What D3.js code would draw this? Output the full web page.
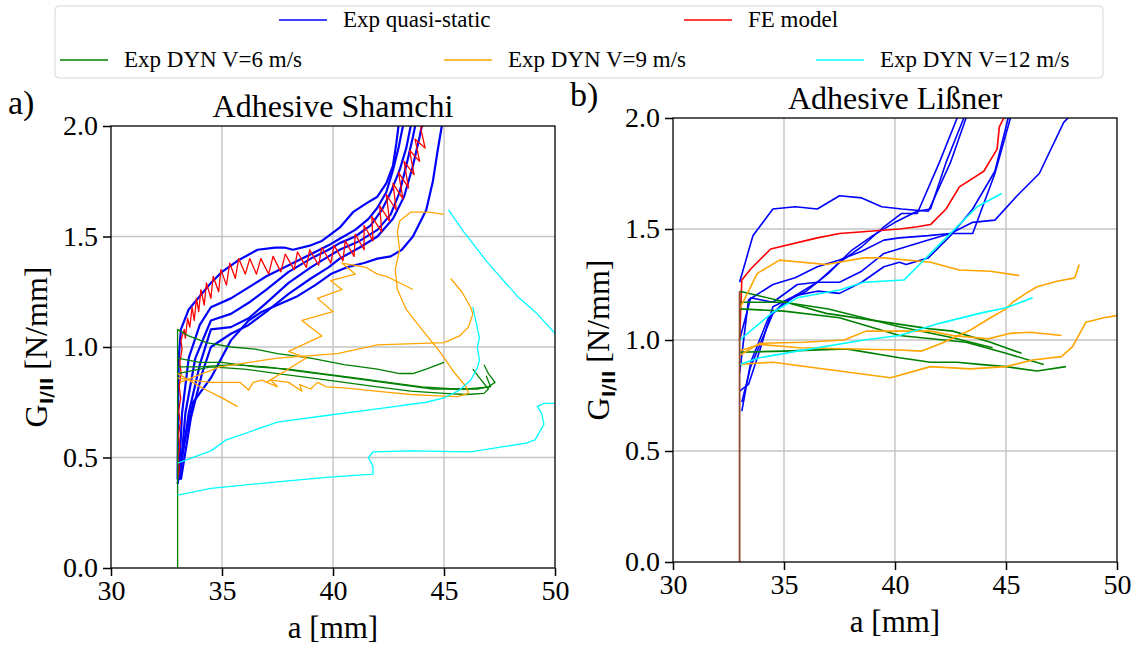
<!DOCTYPE html>
<html>
<head>
<meta charset="utf-8">
<script src="https://cdn.jsdelivr.net/npm/d3@7/dist/d3.min.js"></script>
<style>
  body { margin: 0; background: #fff; }
</style>
</head>
<body>
<svg id="chart" width="1138" height="651"></svg>
<script>
// ---- data: [a (mm), G (N/mm)] ----
const xTicks = [30, 35, 40, 45, 50];
const yTicks = [0, 0.5, 1.0, 1.5, 2.0];
const legendLabels = ["Exp quasi-static", "FE model", "Exp DYN V=6 m/s", "Exp DYN V=9 m/s", "Exp DYN V=12 m/s"];
const seriesColors = ["#0000ff", "#ff0000", "#008000", "#ffa500", "#00ffff"];

// Adhesive Shamchi
const shamQuasi = [
  [[33.0,0.40],[33.02,0.70],[33.05,0.95],[33.15,1.08],[33.5,1.17],[34.0,1.23],[34.5,1.29],[35.0,1.34],[35.7,1.39],[36.6,1.44],[37.4,1.45],[37.8,1.45],[38.2,1.44],[39.0,1.46],[39.5,1.48],[40.3,1.54],[40.9,1.61],[41.5,1.65],[42.0,1.68],[42.4,1.74],[42.7,1.82],[42.85,1.92],[42.95,2.0]],
  [[33.05,0.40],[33.2,0.70],[33.5,0.95],[34.0,1.10],[34.5,1.18],[35.4,1.22],[36.2,1.27],[37.0,1.32],[38.0,1.37],[39.0,1.42],[39.8,1.46],[40.3,1.49],[41.0,1.53],[41.6,1.58],[42.0,1.63],[42.4,1.70],[42.7,1.80],[42.95,1.90],[43.15,2.0]],
  [[33.1,0.40],[33.35,0.70],[33.8,0.95],[34.5,1.12],[35.4,1.15],[36.2,1.20],[37.0,1.26],[38.0,1.34],[39.0,1.40],[39.8,1.44],[40.3,1.47],[41.0,1.50],[41.7,1.55],[42.2,1.62],[42.6,1.70],[43.0,1.80],[43.3,1.90],[43.5,2.0]],
  [[33.1,0.42],[33.5,0.70],[34.0,0.92],[34.5,1.08],[35.4,1.09],[36.2,1.13],[37.0,1.20],[38.0,1.29],[39.0,1.36],[39.8,1.41],[40.3,1.44],[41.2,1.48],[42.0,1.53],[42.6,1.60],[43.0,1.70],[43.3,1.82],[43.6,1.95],[43.7,2.0]],
  [[33.15,0.40],[33.6,0.68],[34.1,0.88],[34.5,1.00],[35.4,1.06],[36.2,1.10],[37.0,1.16],[38.0,1.24],[39.0,1.31],[39.8,1.36],[40.3,1.40],[41.2,1.45],[42.0,1.50],[42.7,1.58],[43.2,1.68],[43.6,1.82],[43.9,1.95],[44.0,2.0]],
  [[33.0,0.38],[33.2,0.52],[33.7,0.75],[34.5,0.86],[35.4,1.03],[36.2,1.12],[36.8,1.16],[37.5,1.19],[38.4,1.23],[39.2,1.28],[39.9,1.33],[40.6,1.36],[41.4,1.38],[42.0,1.40],[42.6,1.41],[43.1,1.44],[43.6,1.50],[44.2,1.62],[44.5,1.75],[44.7,1.88],[44.9,2.0]]
];
const shamFE = [
  [[33.00,0.40],[33.08,0.45],[33.02,0.50],[33.10,0.55],[33.04,0.60],[33.12,0.66],[33.05,0.71],[33.14,0.77],[33.07,0.82],[33.16,0.88],[33.10,0.93],[33.20,0.99],[33.15,1.03],[33.30,1.08],[33.35,1.04],[33.45,1.13],[33.55,1.09],[33.65,1.18],[33.75,1.12],[33.85,1.22],[33.95,1.16],[34.05,1.26],[34.20,1.19],[34.30,1.29],[34.50,1.22],[34.60,1.32],[34.85,1.25],[34.95,1.35],[35.20,1.28],[35.35,1.38],[35.60,1.31],[35.75,1.40],[36.05,1.33],[36.25,1.40],[36.55,1.33],[36.75,1.40],[37.10,1.33],[37.30,1.41],[37.65,1.34],[37.85,1.42],[38.25,1.35],[38.40,1.43],[38.80,1.36],[38.95,1.44],[39.35,1.37],[39.50,1.45],[39.90,1.38],[40.05,1.46],[40.45,1.39],[40.55,1.48],[40.95,1.41],[41.00,1.51],[41.40,1.44],[41.40,1.55],[41.80,1.48],[41.75,1.59],[42.20,1.52],[42.10,1.64],[42.55,1.57],[42.40,1.69],[42.85,1.62],[42.70,1.74],[43.15,1.67],[42.95,1.79],[43.40,1.72],[43.20,1.84],[43.65,1.78],[43.45,1.89],[43.90,1.84],[43.70,1.94],[44.15,1.90],[43.95,1.99],[44.25,2.02]]
];
const shamDyn6 = [
  [[33.0,0.0],[33.0,1.08],[33.5,1.05],[34.3,1.02],[35.4,1.00],[36.5,0.99],[37.5,0.97],[39.0,0.95],[40.5,0.92],[42.0,0.90],[43.0,0.88],[43.6,0.88],[44.2,0.90],[45.0,0.93]],
  [[33.0,0.95],[34.0,0.93],[35.0,0.93],[36.5,0.91],[38.0,0.90],[39.5,0.88],[41.0,0.86],[42.5,0.84],[44.0,0.82],[45.5,0.81],[46.5,0.81],[47.0,0.82],[47.3,0.84],[47.0,0.88],[46.8,0.92]],
  [[33.0,0.88],[33.5,0.89],[34.5,0.91],[36.0,0.90],[37.5,0.88],[39.0,0.86],[40.5,0.84],[42.0,0.82],[43.5,0.80],[45.0,0.79],[46.0,0.785],[46.8,0.79],[47.0,0.81],[46.6,0.86],[46.3,0.90]],
  [[33.0,0.91],[34.0,0.91],[35.5,0.92],[37.0,0.91],[38.5,0.89],[40.0,0.87],[41.5,0.85],[43.0,0.83],[44.5,0.81],[46.0,0.81],[47.1,0.82],[46.9,0.87]]
];
const shamDyn9 = [
  [[33.0,0.88],[33.5,0.85],[34.2,0.81],[35.0,0.77],[35.7,0.73]],
  [[33.1,0.84],[34.9,0.91],[37.5,0.95],[40.2,0.97],[42.0,1.01],[45.0,1.02],[45.7,1.05],[46.1,1.09],[46.3,1.15],[46.2,1.18],[45.8,1.25],[45.3,1.31]],
  [[45.0,1.60],[44.3,1.61],[43.5,1.61],[43.0,1.57],[42.9,1.52],[43.0,1.44],[42.8,1.35],[42.9,1.26],[43.3,1.17],[44.0,1.08],[44.8,0.98],[45.5,0.88],[46.0,0.82],[46.1,0.79],[45.6,0.775],[44.5,0.78],[43.5,0.785],[42.5,0.795],[41.5,0.805],[40.5,0.815],[39.7,0.82],[39.3,0.84],[39.0,0.81],[38.5,0.83],[38.6,0.80],[38.0,0.84],[37.2,0.85],[37.5,0.82],[36.8,0.85],[36.4,0.84],[36.2,0.805],[35.8,0.84],[34.5,0.84],[33.6,0.85],[33.0,0.86]],
  [[37.0,0.84],[38.8,0.95],[38.0,0.98],[39.5,1.05],[38.6,1.12],[40.0,1.16],[39.3,1.22],[40.4,1.26],[39.9,1.30],[41.0,1.33],[40.4,1.38],[41.5,1.36],[42.0,1.33],[42.4,1.32],[43.6,1.26]]
];
const shamDyn12 = [
  [[33.0,0.33],[34.5,0.36],[37.5,0.39],[39.7,0.41],[41.8,0.425],[41.8,0.46],[41.6,0.50],[41.8,0.525],[43.5,0.53],[46.2,0.525],[48.7,0.565],[49.1,0.58],[49.5,0.65],[49.4,0.70],[49.2,0.73],[49.5,0.745],[50.2,0.745]],
  [[33.0,0.475],[34.5,0.53],[35.2,0.58],[37.5,0.66],[39.7,0.69],[42.0,0.72],[44.2,0.75],[45.0,0.77],[45.7,0.805],[46.2,0.85],[46.5,0.905],[46.6,0.94],[46.5,1.00],[46.6,1.04],[46.3,1.18]],
  [[45.2,1.62],[45.9,1.52],[46.9,1.39],[48.3,1.23],[49.2,1.15],[50.1,1.05]]
];

// Adhesive Lissner
const lisOnset = [[33.0,0.0],[33.0,1.22]];
const lisQuasi = [
  [[33.0,1.26],[33.6,1.47],[34.5,1.59],[35.5,1.60],[36.5,1.59],[37.5,1.65],[38.5,1.64],[39.4,1.60],[40.3,1.59],[41.5,1.58],[42.5,1.80],[43.2,2.0]],
  [[33.0,1.00],[33.5,1.19],[34.5,1.17],[35.6,1.25],[36.5,1.26],[37.5,1.26],[38.5,1.31],[39.5,1.39],[40.5,1.42],[41.5,1.45],[42.5,1.48],[43.5,1.53],[44.5,1.54],[45.5,1.65],[46.5,1.75],[47.6,1.98],[47.8,2.0]],
  [[33.0,0.77],[33.4,0.80],[33.9,0.95],[34.5,1.15],[35.5,1.20],[36.5,1.26],[37.5,1.35],[38.5,1.42],[39.5,1.51],[40.3,1.57],[41.0,1.57],[42.0,1.80],[42.8,2.0]],
  [[33.1,0.68],[33.5,0.90],[34.3,1.10],[35.0,1.17],[36.0,1.22],[37.0,1.30],[38.0,1.40],[39.0,1.47],[40.0,1.53],[41.0,1.58],[41.6,1.59],[42.3,1.80],[43.1,2.0]],
  [[33.0,0.85],[33.4,1.18],[34.5,1.25],[35.5,1.28],[36.5,1.33],[37.5,1.36],[38.5,1.40],[39.5,1.45],[40.2,1.46],[41.5,1.47],[42.5,1.48],[43.5,1.48],[44.5,1.75],[45.2,2.0]],
  [[33.1,0.72],[33.5,0.88],[34.5,1.12],[35.5,1.20],[36.5,1.22],[37.5,1.21],[38.5,1.26],[39.5,1.33],[40.2,1.35],[40.5,1.34],[41.5,1.37],[42.5,1.47],[43.5,1.59],[44.5,1.76],[45.1,2.0]]
];
const lisFE = [
  [[33.0,1.0],[33.1,1.27],[33.5,1.32],[34.4,1.41],[36.5,1.46],[37.5,1.48],[40.2,1.50],[41.0,1.51],[41.6,1.52],[42.3,1.59],[42.9,1.69],[44.0,1.76],[44.6,1.86],[44.7,1.96],[44.9,2.0]]
];
const lisDyn6 = [
  [[33.0,1.22],[35.1,1.17],[36.9,1.12],[41.6,1.05],[42.6,1.04],[44.3,0.99],[45.7,0.94]],
  [[33.0,1.17],[35.0,1.17],[37.0,1.14],[40.2,1.06],[42.6,1.01],[44.4,0.965]],
  [[33.0,1.14],[35.0,1.13],[37.5,1.10],[40.2,1.02],[43.2,0.99],[45.0,0.94],[46.7,0.89]],
  [[33.0,0.945],[35.0,0.95],[37.8,0.96],[40.2,0.92],[41.6,0.90],[42.8,0.90],[43.8,0.89],[45.0,0.88],[46.4,0.86],[47.7,0.88]]
];
const lisDyn9 = [
  [[33.0,1.14],[33.8,1.30],[34.8,1.36],[36.9,1.34],[38.6,1.37],[39.5,1.37],[41.6,1.35],[42.9,1.315],[44.3,1.31],[45.6,1.29]],
  [[33.0,0.93],[33.9,0.985],[35.9,0.99],[37.7,1.00],[38.7,1.04],[41.6,1.04],[42.6,1.02],[44.2,1.005],[45.2,1.03],[46.1,1.035],[47.5,1.02]],
  [[33.0,0.95],[33.9,0.98],[35.7,0.965],[40.2,0.955],[41.2,0.95],[42.1,0.985],[43.4,1.045],[44.3,1.10],[45.0,1.14],[45.3,1.17],[45.9,1.21],[46.4,1.24],[47.3,1.265],[48.1,1.28],[48.3,1.34]],
  [[33.0,0.89],[34.5,0.90],[39.8,0.83],[41.6,0.88],[43.4,0.87],[45.0,0.88],[46.2,0.91],[47.5,0.925],[48.0,0.97],[48.6,1.08],[49.4,1.10],[50.0,1.11]]
];
const lisDyn12 = [
  [[33.0,1.00],[34.5,1.125],[35.6,1.19],[37.5,1.225],[38.6,1.26],[40.4,1.27],[41.6,1.39],[42.5,1.48],[43.7,1.60],[44.8,1.66]],
  [[33.0,0.89],[33.9,0.92],[35.6,0.95],[38.6,1.00],[40.2,1.02],[42.0,1.075],[43.8,1.12],[45.0,1.145],[46.2,1.19]]
];

// ---- layout ----
const serif = "'Liberation Serif', 'Times New Roman', Times, serif";
const svg = d3.select("#chart");

const panels = [
  { left: 111, right: 555, top: 126, bottom: 568, title: "Adhesive Shamchi", letter: "a)",
    groups: [shamQuasi, shamFE, shamDyn6, shamDyn9, shamDyn12], widths: [2.2, 1.3, 1.3, 1.3, 1.3], onset: null },
  { left: 673, right: 1117, top: 118, bottom: 562, title: "Adhesive Li\u00dfner", letter: "b)",
    groups: [lisQuasi, lisFE, lisDyn6, lisDyn9, lisDyn12], widths: [1.6, 1.6, 1.6, 1.6, 1.6], onset: lisOnset }
];

panels.forEach(function (p, pi) {
  const x = d3.scaleLinear().domain([30, 50]).range([p.left, p.right]);
  const y = d3.scaleLinear().domain([0, 2]).range([p.bottom, p.top]);
  const g = svg.append("g");

  // grid
  g.selectAll(".gx").data(xTicks.slice(1, -1)).enter().append("line")
    .attr("x1", d => x(d)).attr("x2", d => x(d)).attr("y1", p.top).attr("y2", p.bottom)
    .attr("stroke", "#c4c4c4").attr("stroke-width", 1.4);
  g.selectAll(".gy").data(yTicks.slice(1, -1)).enter().append("line")
    .attr("y1", d => y(d)).attr("y2", d => y(d)).attr("x1", p.left).attr("x2", p.right)
    .attr("stroke", "#c4c4c4").attr("stroke-width", 1.4);

  // curves, clipped to the axes box
  const clipId = "clip" + pi;
  svg.append("clipPath").attr("id", clipId).append("rect")
    .attr("x", p.left).attr("y", p.top).attr("width", p.right - p.left).attr("height", p.bottom - p.top);

  const line = d3.line().x(d => x(d[0])).y(d => y(d[1]));
  const curves = g.append("g").attr("clip-path", "url(#" + clipId + ")");
  p.groups.forEach(function (series, si) {
    curves.selectAll(null).data(series).enter().append("path")
      .attr("d", line)
      .attr("fill", "none")
      .attr("stroke", seriesColors[si])
      .attr("stroke-width", p.widths[si])
      .attr("stroke-linejoin", "round");
  });
  // overlapping red/green start segments read as brown in the reference
  if (p.onset) {
    curves.append("path").datum(p.onset).attr("d", line)
      .attr("fill", "none").attr("stroke", "#8c4a2f").attr("stroke-width", 1.8);
  }

  // frame
  g.append("rect").attr("x", p.left).attr("y", p.top)
    .attr("width", p.right - p.left).attr("height", p.bottom - p.top)
    .attr("fill", "none").attr("stroke", "#000").attr("stroke-width", 1.3);

  // axes
  const xAxis = g.append("g").attr("transform", "translate(0," + p.bottom + ")")
    .call(d3.axisBottom(x).tickValues(xTicks).tickSize(8).tickPadding(4).tickFormat(d3.format("d")));
  const yAxis = g.append("g").attr("transform", "translate(" + p.left + ",0)")
    .call(d3.axisLeft(y).tickValues(yTicks).tickSize(8).tickPadding(5).tickFormat(d3.format(".1f")));
  [xAxis, yAxis].forEach(function (a) {
    a.attr("font-family", null).attr("font-size", null);
    a.select(".domain").remove();
    a.selectAll(".tick line").attr("stroke", "#000").attr("stroke-width", 1.5);
    a.selectAll(".tick text").style("font-family", serif).style("font-size", "28px").attr("fill", "#000");
  });

  const cx = (p.left + p.right) / 2;
  const cy = (p.top + p.bottom) / 2;

  g.append("text").attr("x", cx).attr("y", p.top - 9).attr("text-anchor", "middle")
    .style("font-family", serif).style("font-size", "32px").text(p.title);
  g.append("text").attr("x", p.left - 103).attr("y", p.top - 12)
    .style("font-family", serif).style("font-size", "34px").text(p.letter);
  g.append("text").attr("x", cx).attr("y", p.bottom + 70).attr("text-anchor", "middle")
    .style("font-family", serif).style("font-size", "31px").text("a [mm]");

  const yl = g.append("text")
    .attr("transform", "translate(" + (p.left - 64) + "," + cy + ") rotate(-90)")
    .attr("text-anchor", "middle").style("font-family", serif).style("font-size", "32px");
  yl.append("tspan").text("G");
  yl.append("tspan").style("font-family", "'DejaVu Sans', sans-serif").style("font-weight", "bold")
    .style("font-size", "18px").attr("dy", 6).text("I/II");
  yl.append("tspan").attr("dy", -6).text(" [N/mm]");
});

// ---- legend ----
const legend = svg.append("g");
legend.append("rect").attr("x", 55).attr("y", 6).attr("width", 1048).attr("height", 72)
  .attr("rx", 4).attr("fill", "#fff").attr("stroke", "#d6d6d6").attr("stroke-width", 1);

const legendSlots = [
  { x: 279, y: 20 }, { x: 684, y: 20 },
  { x: 60, y: 60 }, { x: 444, y: 60 }, { x: 816, y: 60 }
];
legendLabels.forEach(function (label, i) {
  const s = legendSlots[i];
  legend.append("line").attr("x1", s.x).attr("x2", s.x + 48).attr("y1", s.y).attr("y2", s.y)
    .attr("stroke", seriesColors[i]).attr("stroke-width", 1.6);
  legend.append("text").attr("x", s.x + 64).attr("y", s.y + 7)
    .style("font-family", serif).style("font-size", "23px").text(label);
});
</script>
</body>
</html>
